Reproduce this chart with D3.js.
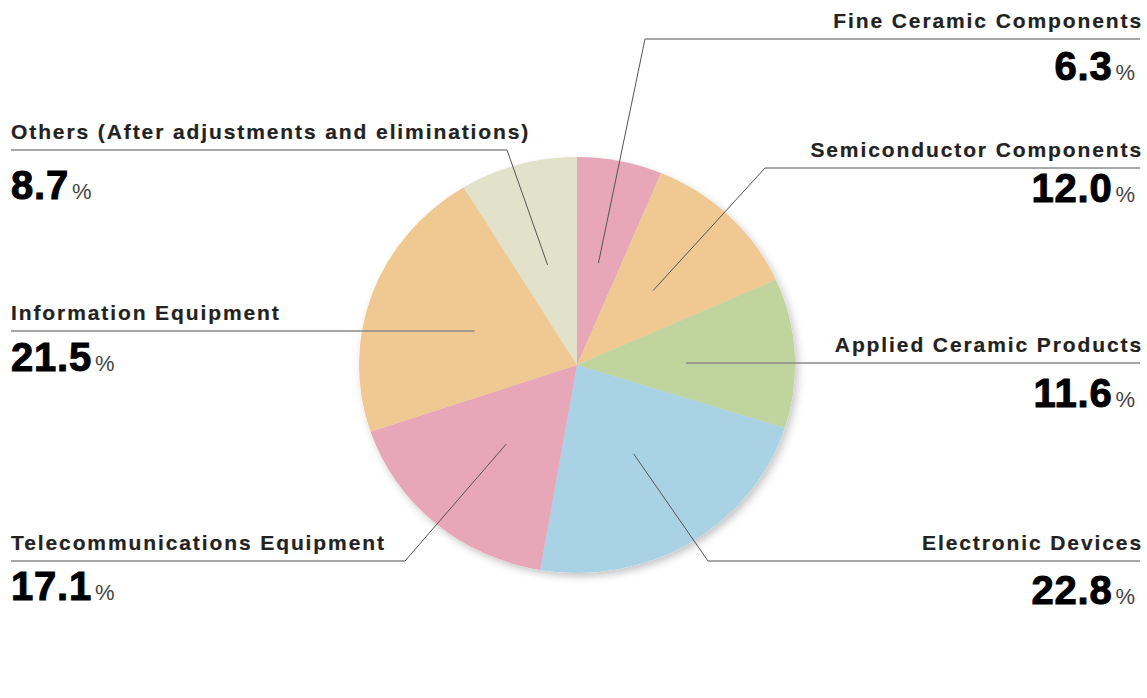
<!DOCTYPE html>
<html>
<head>
<meta charset="utf-8">
<script src="https://cdn.jsdelivr.net/npm/d3@7"></script>
<style>
  html, body { margin: 0; padding: 0; background: #fff; }
  svg { display: block; }
</style>
</head>
<body>
<script>
// segment data, clockwise from 12 o'clock
var segments = ["Fine Ceramic Components", "Semiconductor Components", "Applied Ceramic Products",
    "Electronic Devices", "Telecommunications Equipment", "Information Equipment",
    "Others (After adjustments and eliminations)"];
var shares = [6.3, 12.0, 11.6, 22.8, 17.1, 21.5, 8.7];
var shareLabels = ["6.3", "12.0", "11.6", "22.8", "17.1", "21.5", "8.7"];
var colors = ["#e8a6b9", "#f0c992", "#c0d49d", "#a9d3e4", "#e8a6b9", "#f0c992", "#e2e2ca"];

// label layout: side, underline y, elbow x, number baseline
var labelSide = ["right", "right", "right", "right", "left", "left", "left"];
var lineY = [39, 168, 363, 561, 561, 331, 150];
var elbowX = [645, 765, null, 708, 405, null, 507];
var numY = [80, 202, 407, 604, 600, 371, 199];

var W = 1147, H = 698;
var cx = 577, cy = 365, rx = 218, ry = 208;
var leftX = 11, rightX = 1141;

var svg = d3.select("body").append("svg")
    .attr("width", W)
    .attr("height", H);

var defs = svg.append("defs");
var shadow = defs.append("filter").attr("id", "shadow")
    .attr("x", "-10%").attr("y", "-10%").attr("width", "125%").attr("height", "125%");
shadow.append("feDropShadow")
    .attr("dx", 3).attr("dy", 4).attr("stdDeviation", 4)
    .attr("flood-color", "#000").attr("flood-opacity", 0.22);

var pie = d3.pie().sort(null).value(d => d);
var arcs = pie(shares);
var arc = d3.arc().innerRadius(0).outerRadius(rx);

var pieG = svg.append("g")
    .attr("transform", `translate(${cx},${cy}) scale(1,${ry / rx})`)
    .attr("filter", "url(#shadow)");

pieG.selectAll("path")
    .data(arcs)
    .enter().append("path")
    .attr("d", arc)
    .attr("fill", (d, i) => colors[i]);

// leader lines + underline
var lines = svg.append("g");
arcs.forEach((d, i) => {
    var c = arc.centroid(d);
    var px = cx + c[0], py = cy + c[1] * ry / rx;
    var ex = elbowX[i] == null ? px : elbowX[i];
    var ey = lineY[i];
    var endX = labelSide[i] == "right" ? rightX - 1 : leftX;
    if (elbowX[i] == null) {
        py = ey;
    }
    lines.append("path")
        .attr("d", `M${px},${py}L${ex},${ey}`)
        .attr("fill", "none")
        .attr("stroke", "#555")
        .attr("stroke-width", 1);
    lines.append("path")
        .attr("d", `M${ex},${ey}L${endX},${ey}`)
        .attr("fill", "none")
        .attr("stroke", "#8a8a8a")
        .attr("stroke-width", 1.4);
});

// texts
var labels = svg.append("g");
segments.forEach((name, i) => {
    var right = labelSide[i] == "right";
    var x = right ? rightX : leftX;
    labels.append("text")
        .attr("x", right ? x + 2 : x)
        .attr("y", lineY[i] - 11)
        .attr("text-anchor", right ? "end" : "start")
        .attr("font-family", "Liberation Sans, Arial, sans-serif")
        .attr("font-weight", "bold")
        .attr("font-size", 21)
        .attr("letter-spacing", 1.9)
        .attr("fill", "#222")
        .attr("stroke", "#222")
        .attr("stroke-width", 0.2)
        .text(name);

    var t = labels.append("text")
        .attr("x", right ? x - 6 : x)
        .attr("y", numY[i])
        .attr("text-anchor", right ? "end" : "start")
        .attr("font-family", "Liberation Sans, Arial, sans-serif");
    t.append("tspan")
        .attr("font-weight", "bold")
        .attr("font-size", 40)
        .attr("fill", "#000")
        .attr("stroke", "#000")
        .attr("stroke-width", 1)
        .attr("letter-spacing", 0.8)
        .text(shareLabels[i]);
    t.append("tspan")
        .attr("dx", 3)
        .attr("font-size", 22)
        .attr("fill", "#444")
        .text("%");
});
</script>
</body>
</html>
